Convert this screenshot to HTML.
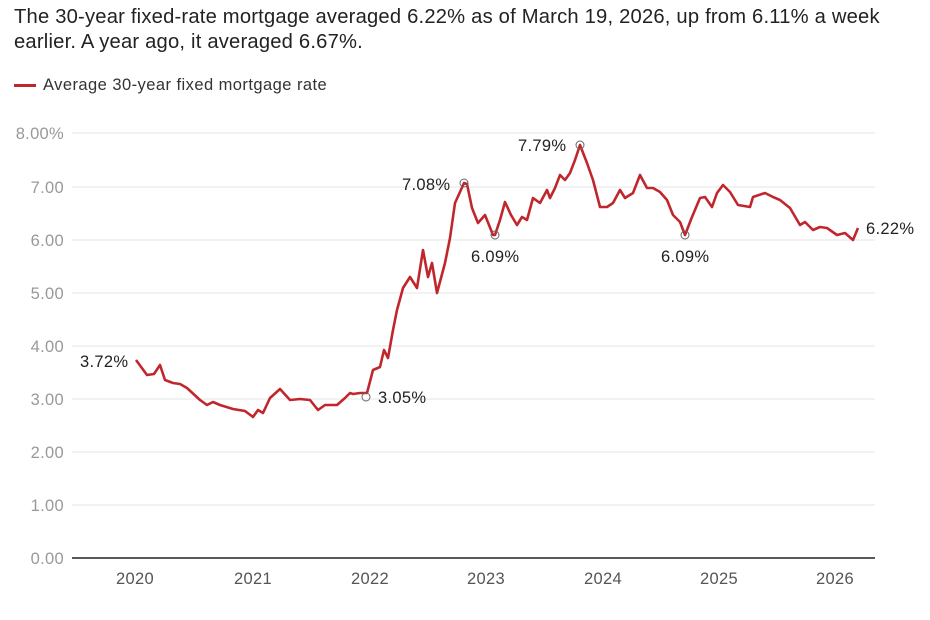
<!DOCTYPE html>
<html><head><meta charset="utf-8"><style>
body{margin:0;background:#fff;font-family:"Liberation Sans",sans-serif;}
.t{position:absolute;left:14px;top:5px;font-size:20.2px;letter-spacing:0.2px;line-height:25px;color:#222;width:880px}
.l{position:absolute;left:14px;top:76px;font-size:16.5px;letter-spacing:0.45px;color:#333}
.l span{display:inline-block;width:22px;height:3px;background:#c0272d;vertical-align:middle;margin-right:7px}
</style></head><body>
<div class="t">The 30-year fixed-rate mortgage averaged 6.22% as of March 19, 2026, up from 6.11% a week earlier. A year ago, it averaged 6.67%.</div>
<div class="l"><span></span>Average 30-year fixed mortgage rate</div>
<svg width="930" height="620" style="position:absolute;left:0;top:0">
<g stroke="#e6e6e6" stroke-width="1">
<line x1="72" x2="875" y1="133" y2="133"/><line x1="72" x2="875" y1="187" y2="187"/><line x1="72" x2="875" y1="240" y2="240"/><line x1="72" x2="875" y1="293" y2="293"/><line x1="72" x2="875" y1="346" y2="346"/><line x1="72" x2="875" y1="399" y2="399"/><line x1="72" x2="875" y1="452" y2="452"/><line x1="72" x2="875" y1="505" y2="505"/>
</g>
<line x1="72" x2="875" y1="558" y2="558" stroke="#222" stroke-width="1.5"/>
<g font-size="16.5" letter-spacing="0.3" fill="#999" text-anchor="end">
<text x="64" y="139">8.00%</text><text x="64" y="193">7.00</text><text x="64" y="246">6.00</text><text x="64" y="299">5.00</text><text x="64" y="352">4.00</text><text x="64" y="405">3.00</text><text x="64" y="458">2.00</text><text x="64" y="511">1.00</text><text x="64" y="564">0.00</text>
</g>
<g font-size="16.5" letter-spacing="0.3" fill="#555" text-anchor="middle">
<text x="135" y="584">2020</text><text x="253" y="584">2021</text><text x="370" y="584">2022</text><text x="486" y="584">2023</text><text x="603" y="584">2024</text><text x="719" y="584">2025</text><text x="835" y="584">2026</text>
</g>
<polyline fill="none" stroke="#c0272d" stroke-width="2.6" stroke-linejoin="round" points="136,360 147,375 154,374 160,365 165,380 173,383 180,384 187,388 200,400 207,405 213,402 220,405 233,409 245,411 253,417 258,410 263,413 270,398 280,389 290,400 300,399 310,400 318,410 325,405 337,405 345,398 350,393 353,394 360,393 367,393 373,370 380,367 384,350 388,358 393,330 397,310 403,288 410,277 417,288 423,250 428,277 432,263 437,293 445,263 450,238 455,203 460,192 464,183 467,184 472,208 478,223 485,215 493,235 495,235 500,220 505,202 511,215 517,225 522,217 527,220 533,198 540,203 547,190 550,198 555,188 560,175 565,180 570,173 575,160 580,145 587,163 593,180 600,207 607,207 613,203 620,190 625,198 633,193 640,175 647,188 653,188 660,192 667,200 673,215 680,222 685,235 692,217 700,198 705,197 712,207 717,193 723,185 730,192 738,205 750,207 753,197 765,193 773,197 780,200 790,208 800,225 805,222 813,230 820,227 827,228 837,235 845,233 853,240 858,228"/>
<g fill="none" stroke="#666" stroke-width="1">
<circle cx="464" cy="183" r="4"/><circle cx="495" cy="235" r="4"/><circle cx="580" cy="145" r="4"/><circle cx="685" cy="235" r="4"/><circle cx="366" cy="397" r="4"/>
</g>
<g font-size="16.5" letter-spacing="0.3" fill="#222">
<text x="80" y="367">3.72%</text><text x="378" y="403">3.05%</text><text x="402" y="190">7.08%</text><text x="471" y="262">6.09%</text><text x="518" y="151">7.79%</text><text x="661" y="262">6.09%</text><text x="866" y="234">6.22%</text>
</g>
</svg>
</body></html>
